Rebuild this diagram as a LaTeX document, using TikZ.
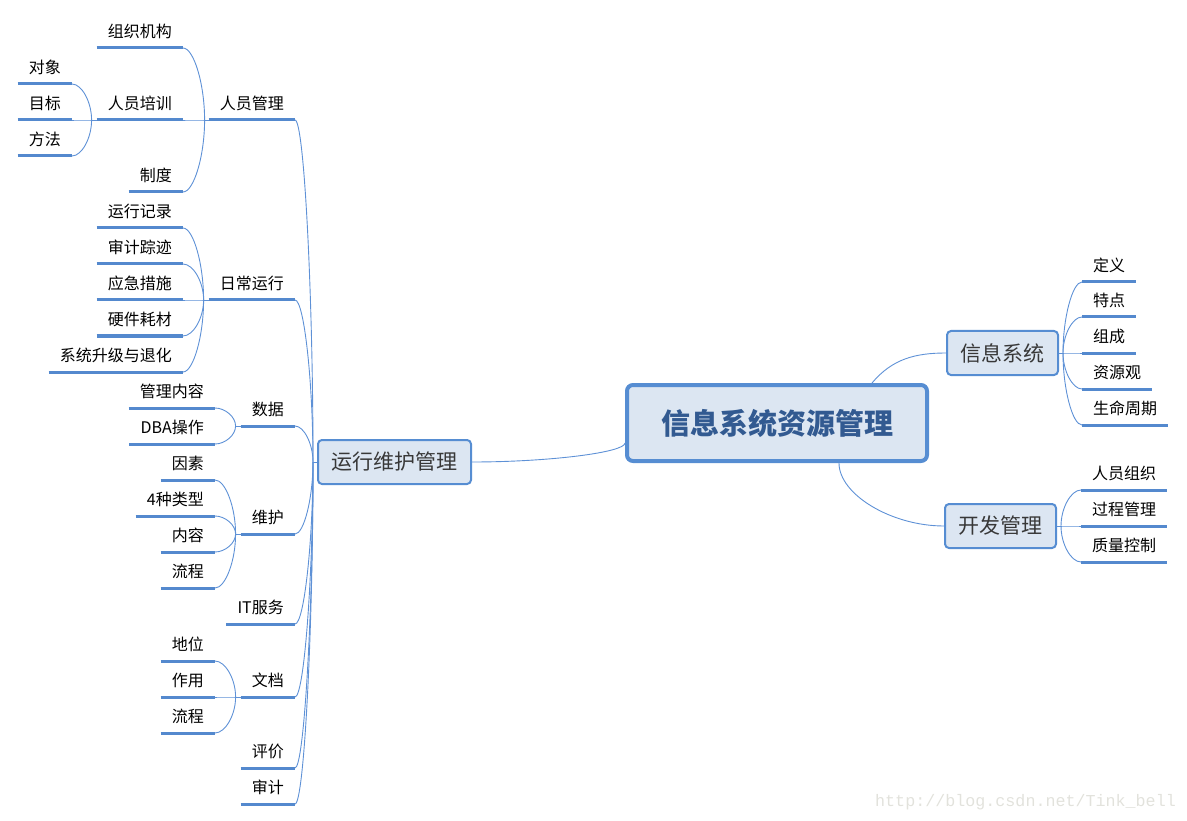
\documentclass[tikz,border=0pt]{standalone}
\usepackage{fontspec}
\setmainfont{Noto Sans CJK SC}
\setmonofont{Liberation Mono}
\usetikzlibrary{calc}

\definecolor{linkblue}{RGB}{94,145,214}
\definecolor{ulblue}{RGB}{84,137,206}
\definecolor{boxfill}{RGB}{220,230,242}
\definecolor{boxline}{RGB}{86,141,210}
\definecolor{titleblue}{RGB}{50,90,145}
\definecolor{markgray}{RGB}{226,226,220}

\tikzset{
  link/.style={draw=linkblue, line width=0.9pt},
  elbow/.style={to path={let \p1=(\tikztostart), \p2=(\tikztotarget) in
      .. controls ({(\x1+\x2)/2},\y1) and (\x2,{(\y1+\y2)/2}) .. (\tikztotarget)}},
  uline/.style={draw=ulblue, line width=3pt},
  leaf/.style={font=\fontsize{16}{19}\selectfont, text=black,
      text height=12pt, text depth=3.5pt, inner xsep=11pt, inner ysep=6.5pt},
  lleaf/.style={leaf, anchor=south east},
  rleaf/.style={leaf, anchor=south west},
  topic/.style={draw=boxline, fill=boxfill, line width=2pt, rounded corners=4pt,
      font=\fontsize{21}{25}\selectfont, text=black!78,
      minimum height=44pt, inner xsep=13.5pt},
  root/.style={draw=boxline, fill=boxfill, line width=4pt, rounded corners=6pt,
      font=\fontsize{29}{34}\selectfont\bfseries, text=titleblue,
      minimum width=300pt, minimum height=76pt},
}

\begin{document}
\begin{tikzpicture}[x=1pt, y=-1pt]
  \useasboundingbox (0,0) rectangle (1187,821);

  % main topics
  \node[root] (root) at (777,423) {信息系统资源管理};
  \node[topic] (ops) at (394.5,462) {运行维护管理};
  \node[topic] (info) at (1002.5,353) {信息系统};
  \node[topic] (dev) at (1000.5,526) {开发管理};

  \coordinate (rootL) at ([yshift=-20pt]root.west);
  \coordinate (rootT) at ([xshift=95pt]root.north);
  \coordinate (rootB) at ([xshift=62pt]root.south);
  \draw[link] (ops.east) to[elbow] (rootL);
  \draw[link] (info.west) to[out=180, in=50] (rootT);
  \draw[link] (dev.west) to[elbow] (rootB);

  % left side
  \coordinate (opsJ) at ([xshift=-4pt]ops.west);
  \draw[link] (opsJ) -- (ops.west);
  \foreach \name/\txt/\y in {staff/人员管理/120, daily/日常运行/300, data/数据/426,
      maint/维护/534, itsvc/IT服务/624, docs/文档/697, eval/评价/768, audit/审计/804}
  {
    \node[lleaf] (\name) at (295,\y) {\txt};
    \draw[uline] (\name.south west) -- (\name.south east);
    \draw[link] (\name.south east) to[elbow] (opsJ);
  }

  \coordinate (staffJ) at ([xshift=-4pt]staff.south west);
  \draw[link] (staffJ) -- (staff.south west);
  \foreach \name/\txt/\y in {org/组织机构/48, train/人员培训/120, rules/制度/192}
  {
    \node[lleaf] (\name) at (183,\y) {\txt};
    \draw[uline] (\name.south west) -- (\name.south east);
    \draw[link] (\name.south east) to[elbow] (staffJ);
  }

  \coordinate (trainJ) at ([xshift=-5pt]train.south west);
  \draw[link] (trainJ) -- (train.south west);
  \foreach \txt/\y [count=\i] in {对象/84, 目标/120, 方法/156}
  {
    \node[lleaf] (train\i) at (72,\y) {\txt};
    \draw[uline] (train\i.south west) -- (train\i.south east);
    \draw[link] (train\i.south east) to[elbow] (trainJ);
  }

  \coordinate (dailyJ) at ([xshift=-5pt]daily.south west);
  \draw[link] (dailyJ) -- (daily.south west);
  \foreach \txt/\y [count=\i] in {运行记录/228, 审计踪迹/264, 应急措施/300,
      硬件耗材/336, 系统升级与退化/372}
  {
    \node[lleaf] (daily\i) at (183,\y) {\txt};
    \draw[uline] (daily\i.south west) -- (daily\i.south east);
    \draw[link] (daily\i.south east) to[elbow] (dailyJ);
  }

  \coordinate (dataJ) at ([xshift=-5pt]data.south west);
  \draw[link] (dataJ) -- (data.south west);
  \foreach \txt/\y [count=\i] in {管理内容/408, DBA操作/444}
  {
    \node[lleaf] (data\i) at (215,\y) {\txt};
    \draw[uline] (data\i.south west) -- (data\i.south east);
    \draw[link] (data\i.south east) to[elbow] (dataJ);
  }

  \coordinate (maintJ) at ([xshift=-5pt]maint.south west);
  \draw[link] (maintJ) -- (maint.south west);
  \foreach \txt/\y [count=\i] in {因素/480, 4种类型/516, 内容/552, 流程/588}
  {
    \node[lleaf] (maint\i) at (215,\y) {\txt};
    \draw[uline] (maint\i.south west) -- (maint\i.south east);
    \draw[link] (maint\i.south east) to[elbow] (maintJ);
  }

  \coordinate (docsJ) at ([xshift=-5pt]docs.south west);
  \draw[link] (docsJ) -- (docs.south west);
  \foreach \txt/\y [count=\i] in {地位/661, 作用/697, 流程/733}
  {
    \node[lleaf] (docs\i) at (215,\y) {\txt};
    \draw[uline] (docs\i.south west) -- (docs\i.south east);
    \draw[link] (docs\i.south east) to[elbow] (docsJ);
  }

  % right side
  \coordinate (infoJ) at ([xshift=4pt]info.east);
  \draw[link] (info.east) -- (infoJ);
  \foreach \txt/\y [count=\i] in {定义/282, 特点/317, 组成/353, 资源观/389, 生命周期/425}
  {
    \node[rleaf] (info\i) at (1082,\y) {\txt};
    \draw[uline] (info\i.south west) -- (info\i.south east);
    \draw[link] (info\i.south west) to[elbow] (infoJ);
  }

  \coordinate (devJ) at ([xshift=4pt]dev.east);
  \draw[link] (dev.east) -- (devJ);
  \foreach \txt/\y [count=\i] in {人员组织/490, 过程管理/526, 质量控制/562}
  {
    \node[rleaf] (dev\i) at (1081,\y) {\txt};
    \draw[uline] (dev\i.south west) -- (dev\i.south east);
    \draw[link] (dev\i.south west) to[elbow] (devJ);
  }

  \node[font=\ttfamily\fontsize{16.7}{18}\selectfont, text=markgray, anchor=base west,
      inner sep=0pt] (mark) at (875,806) {http://blog.csdn.net/Tink\_bell};
\end{tikzpicture}
\end{document}
